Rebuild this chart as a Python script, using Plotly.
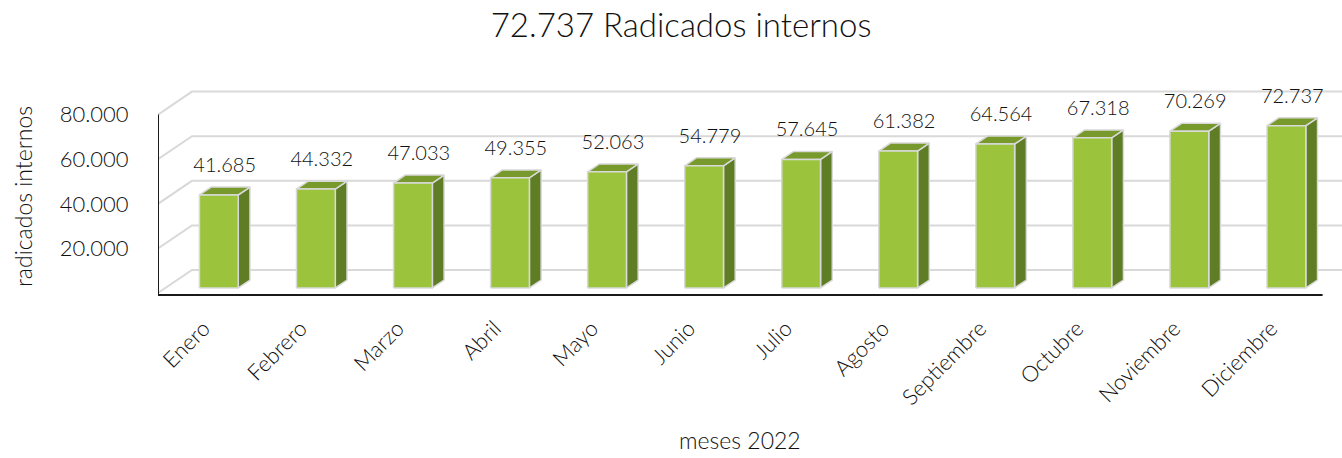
import plotly.graph_objects as go

# ---------------- data ----------------
months = ["Enero", "Febrero", "Marzo", "Abril", "Mayo", "Junio", "Julio",
          "Agosto", "Septiembre", "Octubre", "Noviembre", "Diciembre"]
values = [41685, 44332, 47033, 49355, 52063, 54779, 57645, 61382,
          64564, 67318, 70269, 72737]
value_labels = ["41.685", "44.332", "47.033", "49.355", "52.063", "54.779",
                "57.645", "61.382", "64.564", "67.318", "70.269", "72.737"]
y_ticks = [20000, 40000, 60000, 80000]
y_tick_labels = ["20.000", "40.000", "60.000", "80.000"]
grid_values = [0, 20000, 40000, 60000, 80000]
title_text = "72.737 Radicados internos"
x_title = "meses 2022"
y_title = "radicados internos"

# ---------------- geometry (pseudo 3D) ----------------
X0 = -0.55          # front-left edge of the floor
X_FRONT_END = 11.45
X_MAX = 11.65
DXU = 0.35          # wall depth in x units
DYU = 10314         # wall depth in value units
F1, F2 = 0.22, 0.565  # bar depth (front / back) as fraction of wall depth
HW = 0.2            # half bar width
Y_MIN, Y_MAX = -1345, 93270
Y_FRAME = -897
LABEL_SHIFT = 0.08

FONT = "Lato"
TXT = "#111111"

fig = go.Figure()

# back-wall / side-wall gridlines
gx, gy = [], []
for g in grid_values:
    gx += [X0, X0 + DXU, X_MAX + 1, None]
    gy += [g, g + DYU, g + DYU, None]
fig.add_trace(go.Scatter(x=gx, y=gy, mode="lines",
                         line=dict(color="#D9D9D9", width=2),
                         hoverinfo="skip", showlegend=False))

# bar faces
fx, fy, sx, sy, tx, ty = [], [], [], [], [], []
lx, ly = [], []
for i, v in enumerate(values):
    a1, a2 = F1 * DXU, F2 * DXU
    b1, b2 = F1 * DYU, F2 * DYU
    L, R = i - HW + a1, i + HW + a1
    fx += [L, R, R, L, L, None]
    fy += [b1, b1, v + b1, v + b1, b1, None]
    sx += [R, R - a1 + a2, R - a1 + a2, R, R, None]
    sy += [b1, b2, v + b2, v + b1, b1, None]
    tx += [L, R, R - a1 + a2, L - a1 + a2, L, None]
    ty += [v + b1, v + b1, v + b2, v + b2, v + b1, None]
    lx.append(i + (a1 + a2) / 2)
    ly.append(v + b2 + 9000)

edge = dict(color="#D9D9D9", width=1.5)
fig.add_trace(go.Scatter(x=sx, y=sy, mode="lines", fill="toself",
                         fillcolor="#5F7D24", line=edge,
                         hoverinfo="skip", showlegend=False))
fig.add_trace(go.Scatter(x=tx, y=ty, mode="lines", fill="toself",
                         fillcolor="#789A2C", line=edge,
                         hoverinfo="skip", showlegend=False))
fig.add_trace(go.Scatter(x=fx, y=fy, mode="lines", fill="toself",
                         fillcolor="#9BC43C", line=edge,
                         hoverinfo="skip", showlegend=False))

# data labels
fig.add_trace(go.Scatter(x=lx, y=ly, mode="text", text=value_labels,
                         textposition="middle center",
                         textfont=dict(family=FONT, size=20, color=TXT, weight=300),
                         hoverinfo="skip", showlegend=False, cliponaxis=False))

# front frame lines
fig.add_shape(type="line", x0=X0, x1=X0, y0=Y_FRAME, y1=80000,
              line=dict(color="#1a1a1a", width=2))
fig.add_shape(type="line", x0=X0, x1=X_FRONT_END, y0=Y_FRAME, y1=Y_FRAME,
              line=dict(color="#1a1a1a", width=2))

fig.update_layout(
    width=1342, height=458,
    margin=dict(l=158, r=0, t=85, b=162, autoexpand=False),
    paper_bgcolor="white", plot_bgcolor="white",
    title=dict(text=title_text, x=0.5075, y=0.945, xanchor="center",
               yanchor="middle",
               font=dict(family=FONT, size=33, color=TXT, weight=300)),
    xaxis=dict(range=[X0, X_MAX],
               tickvals=[i - LABEL_SHIFT for i in range(len(months))],
               ticktext=months, tickangle=-45, showgrid=False,
               zeroline=False, showline=False, ticks="outside",
               ticklen=10, tickcolor="rgba(0,0,0,0)", automargin=False,
               tickfont=dict(family=FONT, size=22, color=TXT, weight=300)),
    yaxis=dict(range=[Y_MIN, Y_MAX], tickvals=y_ticks,
               ticktext=y_tick_labels, showgrid=False, zeroline=False,
               showline=False, ticks="outside", ticklen=24,
               tickcolor="rgba(0,0,0,0)", automargin=False,
               tickfont=dict(family=FONT, size=22, color=TXT, weight=300)),
    annotations=[
        dict(text=x_title, xref="paper", yref="paper", x=0.4916, y=-0.682,
             showarrow=False, xanchor="center", yanchor="middle",
             font=dict(family=FONT, size=23, color=TXT, weight=300)),
        dict(text=y_title, xref="paper", yref="paper", x=-0.114, y=0.469,
             showarrow=False, xanchor="center", yanchor="middle",
             textangle=-90,
             font=dict(family=FONT, size=23, color=TXT, weight=300)),
    ],
)

fig.write_html("out.html",
               config={"displayModeBar": False},
               post_script="document.body.style.margin='0';"
                           "document.body.style.overflow='hidden';")
